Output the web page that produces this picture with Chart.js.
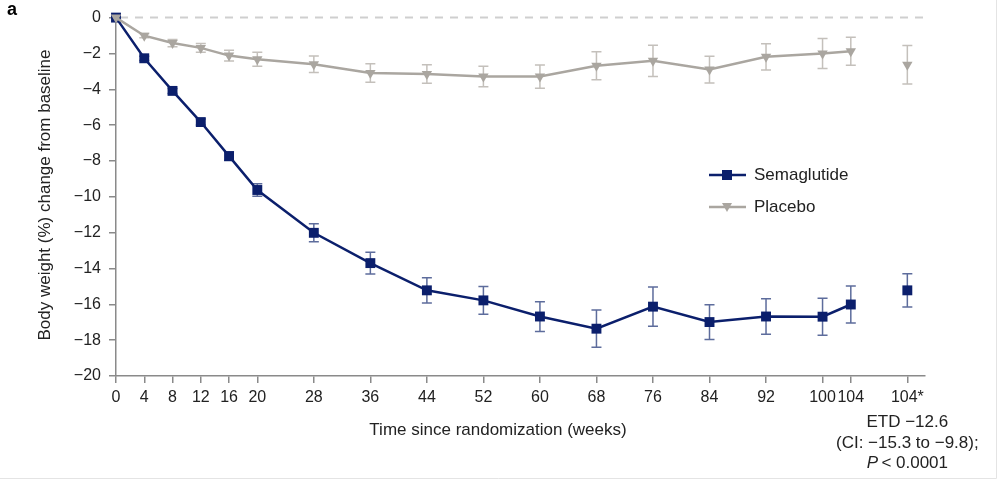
<!DOCTYPE html>
<html>
<head>
<meta charset="utf-8">
<script src="https://cdn.jsdelivr.net/npm/chart.js@4.4.1/dist/chart.umd.min.js"></script>
<style>
    html, body {margin: 0; padding: 0; background: #fff;}
    #wrap {width: 1000px; height: 482px; position: relative;}
</style>
</head>
<body>
<div id="wrap"><canvas id="weightChart"></canvas></div>
<script>
// weeks on the x axis (104* treatment-policy estimate is placed at 112)
const weeks = [0, 4, 8, 12, 16, 20, 28, 36, 44, 52, 60, 68, 76, 84, 92, 100, 104];
const tickWeeks = [0, 4, 8, 12, 16, 20, 28, 36, 44, 52, 60, 68, 76, 84, 92, 100, 104, 112];
const tickLabels = ['0', '4', '8', '12', '16', '20', '28', '36', '44', '52', '60', '68', '76', '84', '92', '100', '104', '104*'];
const yTicks = [0, -2, -4, -6, -8, -10, -12, -14, -16, -18, -20];

const semaglutide = [0, -2.27, -4.09, -5.83, -7.73, -9.62, -12.01, -13.7, -15.22, -15.78, -16.68, -17.36, -16.13, -16.99, -16.68, -16.69, -16.01];
const semaglutideErr = [0, 0.12, 0.14, 0.17, 0.25, 0.35, 0.5, 0.61, 0.7, 0.78, 0.83, 1.04, 1.09, 0.97, 0.99, 1.03, 1.03];
const placebo = [0, -1.01, -1.42, -1.69, -2.12, -2.32, -2.6, -3.09, -3.15, -3.29, -3.29, -2.69, -2.41, -2.9, -2.19, -2.0, -1.88];
const placeboErr = [0, 0.12, 0.2, 0.25, 0.3, 0.39, 0.46, 0.52, 0.52, 0.57, 0.65, 0.78, 0.87, 0.75, 0.73, 0.84, 0.78];

const etdWeek = 112;
const semaglutideEtd = [-15.22];
const semaglutideEtdErr = [0.93];
const placeboEtd = [-2.63];
const placeboEtdErr = [1.07];

const SEMA = '#0b1f6c';
const SEMA_ERR = '#5d6c9c';
const PLAC = '#aaa6a0';
const PLAC_ERR = '#c4c0bb';
const TEXT = '#222';
const FONT = '"Liberation Sans", Arial, sans-serif';

const minus = v => (v < 0 ? '\u2212' + Math.abs(v) : String(v));

const errorBars = {
    id: 'errorBars',
    beforeDatasetsDraw(chart) {
        const ctx = chart.ctx;
        const y = chart.scales.y;
        chart.data.datasets.forEach((ds, i) => {
            if (!ds.errors) return;
            const meta = chart.getDatasetMeta(i);
            ctx.save();
            ctx.strokeStyle = ds.errorColor;
            ctx.lineWidth = 1.5;
            meta.data.forEach((pt, j) => {
                const e = ds.errors[j];
                if (!e) return;
                const v = ds.data[j].y;
                const top = y.getPixelForValue(v + e);
                const bot = y.getPixelForValue(v - e);
                ctx.beginPath();
                ctx.moveTo(pt.x, top); ctx.lineTo(pt.x, bot);
                ctx.moveTo(pt.x - 5, top); ctx.lineTo(pt.x + 5, top);
                ctx.moveTo(pt.x - 5, bot); ctx.lineTo(pt.x + 5, bot);
                ctx.stroke();
            });
            ctx.restore();
        });
    }
};

const zeroLine = {
    id: 'zeroLine',
    beforeDatasetsDraw(chart) {
        const ctx = chart.ctx;
        const a = chart.chartArea;
        const yy = chart.scales.y.getPixelForValue(0);
        ctx.save();
        ctx.strokeStyle = '#cfcfcf';
        ctx.lineWidth = 2;
        ctx.setLineDash([8, 7]);
        ctx.beginPath();
        ctx.moveTo(a.left + 4, yy);
        ctx.lineTo(a.right, yy);
        ctx.stroke();
        ctx.restore();
    }
};

const annotations = {
    id: 'annotations',
    afterDraw(chart) {
        const ctx = chart.ctx;
        ctx.save();
        // frame lines of the figure panel
        ctx.strokeStyle = '#e4e4e4';
        ctx.lineWidth = 1;
        ctx.beginPath();
        ctx.moveTo(996.5, 0); ctx.lineTo(996.5, 478.5); ctx.lineTo(0, 478.5);
        ctx.stroke();

        ctx.fillStyle = '#000';
        ctx.font = 'bold 18px ' + FONT;
        ctx.textAlign = 'left';
        ctx.textBaseline = 'middle';
        ctx.fillText('a', 7, 10);

        ctx.fillStyle = TEXT;
        ctx.font = '17px ' + FONT;
        ctx.textAlign = 'center';
        ctx.fillText('Time since randomization (weeks)', 498, 430);

        ctx.save();
        ctx.translate(45, 195);
        ctx.rotate(-Math.PI / 2);
        ctx.fillText('Body weight (%) change from baseline', 0, 0);
        ctx.restore();

        const cx = chart.scales.x.getPixelForValue(etdWeek);
        ctx.fillText('ETD \u221212.6', cx, 422);
        ctx.fillText('(CI: \u221215.3 to \u22129.8);', cx, 443);
        ctx.font = 'italic 17px ' + FONT;
        const pW = ctx.measureText('P').width;
        ctx.font = '17px ' + FONT;
        const rest = '\u2009< 0.0001';
        const rW = ctx.measureText(rest).width;
        const start = cx - (pW + rW) / 2;
        ctx.textAlign = 'left';
        ctx.font = 'italic 17px ' + FONT;
        ctx.fillText('P', start, 463);
        ctx.font = '17px ' + FONT;
        ctx.fillText(rest, start + pW, 463);

        // legend
        const items = [
            {label: 'Semaglutide', color: SEMA, style: 'rect', y: 175},
            {label: 'Placebo', color: PLAC, style: 'triangle', y: 207}
        ];
        items.forEach(it => {
            ctx.strokeStyle = it.color;
            ctx.lineWidth = 2.5;
            ctx.beginPath();
            ctx.moveTo(709, it.y); ctx.lineTo(746, it.y);
            ctx.stroke();
            ctx.fillStyle = it.color;
            ctx.beginPath();
            if (it.style === 'rect') {
                ctx.rect(722, it.y - 5, 10, 10);
            } else {
                ctx.moveTo(722, it.y - 4); ctx.lineTo(732, it.y - 4); ctx.lineTo(727, it.y + 5);
                ctx.closePath();
            }
            ctx.fill();
            ctx.fillStyle = TEXT;
            ctx.textAlign = 'left';
            ctx.fillText(it.label, 754, it.y);
        });
        ctx.restore();
    }
};

const toPts = (xs, ys) => ys.map((v, i) => ({x: xs[i], y: v}));

new Chart(document.getElementById('weightChart').getContext('2d'), {
    type: 'line',
    data: {
        datasets: [
            {
                label: 'Placebo',
                data: toPts(weeks, placebo),
                errors: placeboErr,
                errorColor: PLAC_ERR,
                borderColor: PLAC,
                backgroundColor: PLAC,
                borderWidth: 2.5,
                pointStyle: 'triangle',
                pointRotation: 180,
                pointRadius: 6,
                pointBorderWidth: 0,
                tension: 0,
                clip: false,
                order: 0
            },
            {
                label: 'Semaglutide',
                data: toPts(weeks, semaglutide),
                errors: semaglutideErr,
                errorColor: SEMA_ERR,
                borderColor: SEMA,
                backgroundColor: SEMA,
                borderWidth: 2.5,
                pointStyle: 'rect',
                pointRadius: 7,
                pointBorderWidth: 0,
                tension: 0,
                clip: false,
                order: 1
            },
            {
                label: 'Placebo 104*',
                data: toPts([etdWeek], placeboEtd),
                errors: placeboEtdErr,
                errorColor: PLAC_ERR,
                showLine: false,
                backgroundColor: PLAC,
                borderColor: PLAC,
                pointStyle: 'triangle',
                pointRotation: 180,
                pointRadius: 6,
                pointBorderWidth: 0,
                clip: false,
                order: 0
            },
            {
                label: 'Semaglutide 104*',
                data: toPts([etdWeek], semaglutideEtd),
                errors: semaglutideEtdErr,
                errorColor: SEMA_ERR,
                showLine: false,
                backgroundColor: SEMA,
                borderColor: SEMA,
                pointStyle: 'rect',
                pointRadius: 7,
                pointBorderWidth: 0,
                clip: false,
                order: 1
            }
        ]
    },
    options: {
        responsive: true,
        maintainAspectRatio: false,
        animation: false,
        devicePixelRatio: 1,
        layout: {padding: {top: 13, right: 75, left: 0, bottom: 0}},
        plugins: {legend: {display: false}, tooltip: {enabled: false}},
        scales: {
            x: {
                type: 'linear',
                min: 0,
                max: 114.5,
                afterBuildTicks: scale => { scale.ticks = tickWeeks.map(v => ({value: v})); },
                afterFit: scale => { scale.height = 106; },
                ticks: {
                    autoSkip: false,
                    maxRotation: 0,
                    padding: 5,
                    color: TEXT,
                    font: {family: FONT, size: 16},
                    callback: (v, i) => tickLabels[i]
                },
                grid: {drawOnChartArea: false, drawTicks: true, tickLength: 7, color: '#8a8a8a', lineWidth: 1.5},
                border: {color: '#8a8a8a', width: 1.5}
            },
            y: {
                min: -20,
                max: 0,
                afterBuildTicks: scale => { scale.ticks = yTicks.map(v => ({value: v})); },
                afterFit: scale => { scale.width = 116; },
                ticks: {
                    padding: 8,
                    color: TEXT,
                    font: {family: FONT, size: 16},
                    callback: v => minus(v)
                },
                grid: {drawOnChartArea: false, drawTicks: true, tickLength: 7, color: '#8a8a8a', lineWidth: 1.5},
                border: {color: '#8a8a8a', width: 1.5}
            }
        }
    },
    plugins: [zeroLine, errorBars, annotations]
});
</script>
</body>
</html>
